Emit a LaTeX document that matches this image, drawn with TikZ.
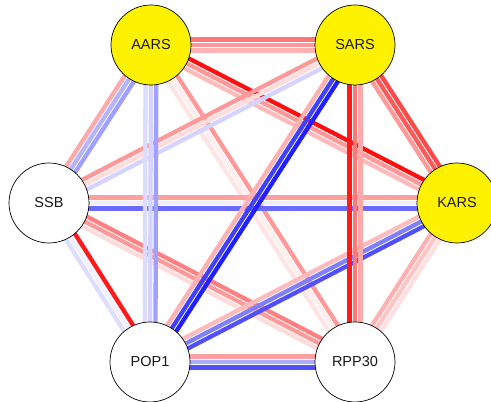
\documentclass[tikz,border=0pt]{standalone}
\usepackage{fontspec}
\setmainfont{Liberation Sans}
\usetikzlibrary{calc}
\pgfdeclarelayer{bg}
\pgfsetlayers{bg,main}
\tikzset{
  gene/.style={circle, draw=black, line width=0.7pt, minimum size=80pt, inner sep=0pt,
    text=black!90, font=\fontsize{14.5}{17}\selectfont},
  hitgene/.style={gene, fill=yellow},
  othergene/.style={gene, fill=white},
  bundleline/.style={line width=4.3pt}
}
\newcommand{\edgebundle}[5]{%
  \definecolor{ebA}{HTML}{#3}\definecolor{ebB}{HTML}{#4}\definecolor{ebC}{HTML}{#5}%
  \begin{pgfonlayer}{bg}
    \draw[bundleline, ebA] ($(#1.center)!5.4pt!90:(#2.center)$) -- ($(#2.center)!5.4pt!-90:(#1.center)$);
    \draw[bundleline, ebB] (#1.center) -- (#2.center);
    \draw[bundleline, ebC] ($(#1.center)!5.4pt!-90:(#2.center)$) -- ($(#2.center)!5.4pt!90:(#1.center)$);
  \end{pgfonlayer}}
\begin{document}
\begin{tikzpicture}[x=1pt, y=1pt]
\useasboundingbox (0,0) rectangle (491,402);
\clip (0,0) rectangle (491,402);
\node[hitgene]   (AARS)  at (151,357) {AARS};
\node[hitgene]   (SARS)  at (355,357) {SARS};
\node[othergene] (SSB)   at (49,199)  {SSB};
\node[hitgene]   (KARS)  at (457,199) {KARS};
\node[othergene] (POP1)  at (150,40)  {POP1};
\node[othergene] (RPP30) at (355,40)  {RPP30};

\edgebundle{AARS}{SARS}{FF7777}{FF9999}{FFB3B3}
\edgebundle{AARS}{KARS}{FF1010}{FF9999}{FFBBBB}
\edgebundle{AARS}{RPP30}{FF9999}{FFEEEE}{FFE4E4}
\edgebundle{AARS}{SSB}{A0A0FF}{B4B4FF}{FFAAAA}
\edgebundle{SSB}{SARS}{FF9999}{FFDDDD}{D4D4FF}
\edgebundle{SARS}{KARS}{FF4848}{FF5A5A}{FF9A9A}
\edgebundle{SSB}{KARS}{FFA0A0}{EEEEFF}{6A6AFF}
\edgebundle{SSB}{RPP30}{FF8080}{FF9A9A}{FFDCDC}
\edgebundle{POP1}{SARS}{FFB0B0}{4040FF}{2020FF}
\edgebundle{POP1}{KARS}{FFBBBB}{8080FF}{5050FF}
\edgebundle{KARS}{RPP30}{FFE0E0}{FFC4C4}{FFB0B0}
\edgebundle{SSB}{POP1}{FF1A1A}{F0F0FF}{DDDDFF}
\edgebundle{POP1}{RPP30}{FFA0A0}{ADADFF}{5050FF}
\edgebundle{AARS}{POP1}{A0A0FF}{D4D4FF}{DCDCFF}
\edgebundle{SARS}{RPP30}{FFAAAA}{FF7777}{FF1A1A}
\end{tikzpicture}
\end{document}
